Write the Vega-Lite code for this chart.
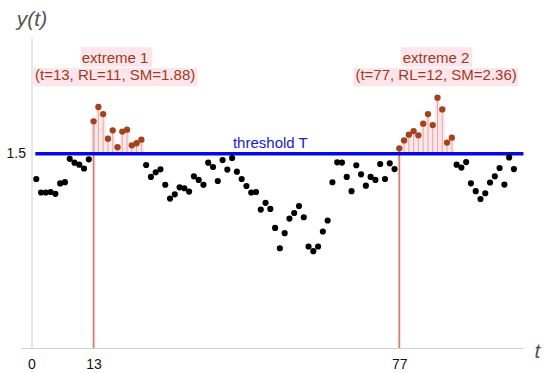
{
  "$schema": "https://vega.github.io/schema/vega-lite/v6.json",
  "width": 502,
  "height": 311,
  "autosize": "none",
  "padding": {"left": 21, "top": 37, "right": 27, "bottom": 25},
  "background": "white",
  "config": {"view": {"stroke": null}, "font": "Liberation Sans"},
  "datasets": {
    "series": [
      {"t":1,"y":1.304},{"t":2,"y":1.20},{"t":3,"y":1.20},{"t":4,"y":1.204},{"t":5,"y":1.19},
      {"t":6,"y":1.27},{"t":7,"y":1.28},{"t":8,"y":1.46},{"t":9,"y":1.43},{"t":10,"y":1.415},
      {"t":11,"y":1.385},{"t":12,"y":1.456},{"t":13,"y":1.749},{"t":14,"y":1.86},{"t":15,"y":1.805},
      {"t":16,"y":1.615},{"t":17,"y":1.68},{"t":18,"y":1.55},{"t":19,"y":1.67},{"t":20,"y":1.685},
      {"t":21,"y":1.564},{"t":22,"y":1.58},{"t":23,"y":1.608},{"t":24,"y":1.412},{"t":25,"y":1.32},
      {"t":26,"y":1.356},{"t":27,"y":1.379},{"t":28,"y":1.26},{"t":29,"y":1.153},{"t":30,"y":1.186},
      {"t":31,"y":1.24},{"t":32,"y":1.233},{"t":33,"y":1.207},{"t":34,"y":1.325},{"t":35,"y":1.297},
      {"t":36,"y":1.26},{"t":37,"y":1.43},{"t":38,"y":1.397},{"t":39,"y":1.289},{"t":40,"y":1.45},
      {"t":41,"y":1.377},{"t":42,"y":1.466},{"t":43,"y":1.361},{"t":44,"y":1.304},{"t":45,"y":1.25},
      {"t":46,"y":1.20},{"t":47,"y":1.204},{"t":48,"y":1.068},{"t":49,"y":1.12},{"t":50,"y":1.073},
      {"t":51,"y":0.927},{"t":52,"y":0.77},{"t":53,"y":0.886},{"t":54,"y":0.999},{"t":55,"y":1.042},
      {"t":56,"y":1.096},{"t":57,"y":1.009},{"t":58,"y":0.783},{"t":59,"y":0.747},{"t":60,"y":0.783},
      {"t":61,"y":0.899},{"t":62,"y":0.984},{"t":63,"y":1.279},{"t":64,"y":1.433},{"t":65,"y":1.431},
      {"t":66,"y":1.32},{"t":67,"y":1.21},{"t":68,"y":1.41},{"t":69,"y":1.34},{"t":70,"y":1.253},
      {"t":71,"y":1.32},{"t":72,"y":1.297},{"t":73,"y":1.42},{"t":74,"y":1.304},{"t":75,"y":1.425},
      {"t":76,"y":1.381},{"t":77,"y":1.541},{"t":78,"y":1.602},{"t":79,"y":1.646},{"t":80,"y":1.674},
      {"t":81,"y":1.641},{"t":82,"y":1.731},{"t":83,"y":1.805},{"t":84,"y":1.72},{"t":85,"y":1.931},
      {"t":86,"y":1.841},{"t":87,"y":1.585},{"t":88,"y":1.623},{"t":89,"y":1.415},{"t":90,"y":1.392},
      {"t":91,"y":1.435},{"t":92,"y":1.271},{"t":93,"y":1.21},{"t":94,"y":1.15},{"t":95,"y":1.194},
      {"t":96,"y":1.277},{"t":97,"y":1.325},{"t":98,"y":1.389},{"t":99,"y":1.261},{"t":100,"y":1.471},
      {"t":101,"y":1.381}
    ],
    "extremes": [
      {"t":13,"y":1.749},{"t":77,"y":1.541}
    ],
    "threshold": [{"t0":0.8,"t1":103,"T":1.5,"label":"threshold T","tl":50}],
    "labels": [
      {"t":17.5,"y":2.199,"text":"extreme 1"},
      {"t":17.5,"y":2.068,"text":"(t=13, RL=11, SM=1.88)"},
      {"t":84.7,"y":2.199,"text":"extreme 2"},
      {"t":84.7,"y":2.068,"text":"(t=77, RL=12, SM=2.36)"}
    ],
    "boxes": [
      {"t0":10.3,"t1":25.3,"y0":2.17,"y1":2.32},
      {"t0":0.4,"t1":34.8,"y0":2.02,"y1":2.16},
      {"t0":77.3,"t1":92.3,"y0":2.17,"y1":2.32},
      {"t0":67.4,"t1":101.9,"y0":2.02,"y1":2.16}
    ]
  },
  "layer": [
    {
      "data": {"name": "boxes"},
      "mark": {"type": "rect", "color": "#fde5ec"},
      "encoding": {
        "x": {"field": "t0", "type": "quantitative", "scale": {"domain": [-2.2, 102.9], "nice": false, "zero": false, "padding": 0},
          "axis": {"values": [0, 13, 77], "ticks": false, "grid": false, "domainColor": "#d0d0d0", "labelFontSize": 14, "labelColor": "#111", "labelPadding": 9, "labelFont": "Liberation Sans",
            "title": "t", "titleFontStyle": "italic", "titleFontWeight": "normal", "titleFontSize": 21, "titleColor": "#555", "titleFont": "Liberation Sans", "titleX": 516, "titleY": 9, "titleAlign": "center", "titleBaseline": "alphabetic"}},
        "x2": {"field": "t1"},
        "y": {"field": "y0", "type": "quantitative", "scale": {"domain": [0, 2.4], "nice": false, "padding": 0},
          "axis": {"values": [1.5], "offset": -10.5, "ticks": false, "grid": false, "domainColor": "#d0d0d0", "labelFontSize": 14, "labelColor": "#111", "labelPadding": 6, "labelFont": "Liberation Sans", "format": ".1f",
            "title": "y(t)", "titleAngle": 0, "titleFontStyle": "italic", "titleFontWeight": "normal", "titleFontSize": 21, "titleColor": "#555", "titleFont": "Liberation Sans", "titleX": 0, "titleY": -12, "titleAlign": "center", "titleBaseline": "alphabetic"}},
        "y2": {"field": "y1"}
      }
    },
    {
      "data": {"name": "series"},
      "transform": [{"filter": "datum.y > 1.5"}],
      "mark": {"type": "bar", "color": "#fde5ec", "size": 5},
      "encoding": {
        "x": {"field": "t", "type": "quantitative"},
        "y": {"field": "y", "type": "quantitative"},
        "y2": {"datum": 1.5}
      }
    },
    {
      "data": {"name": "extremes"},
      "mark": {"type": "rule", "color": "#fdeaf0", "strokeWidth": 4},
      "encoding": {
        "x": {"field": "t", "type": "quantitative"},
        "y": {"field": "y", "type": "quantitative"},
        "y2": {"datum": 0}
      }
    },
    {
      "data": {"name": "extremes"},
      "mark": {"type": "rule", "color": "#c48670", "strokeWidth": 1.6},
      "encoding": {
        "x": {"field": "t", "type": "quantitative"},
        "y": {"field": "y", "type": "quantitative"},
        "y2": {"datum": 0}
      }
    },
    {
      "data": {"name": "series"},
      "transform": [{"filter": "datum.y > 1.5"}],
      "mark": {"type": "rule", "color": "#e0ae9f", "strokeWidth": 1},
      "encoding": {
        "x": {"field": "t", "type": "quantitative"},
        "y": {"field": "y", "type": "quantitative"},
        "y2": {"datum": 1.5}
      }
    },
    {
      "data": {"name": "threshold"},
      "mark": {"type": "rule", "color": "#0808e0", "strokeWidth": 3.5},
      "encoding": {
        "x": {"field": "t0", "type": "quantitative"},
        "x2": {"field": "t1"},
        "y": {"field": "T", "type": "quantitative"}
      }
    },
    {
      "data": {"name": "threshold"},
      "mark": {"type": "text", "color": "#1a1ad0", "fontSize": 15, "font": "Liberation Sans", "baseline": "alphabetic", "dy": -6},
      "encoding": {
        "x": {"field": "tl", "type": "quantitative"},
        "y": {"field": "T", "type": "quantitative"},
        "text": {"field": "label"}
      }
    },
    {
      "data": {"name": "series"},
      "transform": [{"filter": "datum.y <= 1.5"}],
      "mark": {"type": "circle", "color": "#000", "size": 38, "opacity": 1},
      "encoding": {
        "x": {"field": "t", "type": "quantitative"},
        "y": {"field": "y", "type": "quantitative"}
      }
    },
    {
      "data": {"name": "series"},
      "transform": [{"filter": "datum.y > 1.5"}],
      "mark": {"type": "circle", "color": "#a4421c", "size": 40, "opacity": 1},
      "encoding": {
        "x": {"field": "t", "type": "quantitative"},
        "y": {"field": "y", "type": "quantitative"}
      }
    },
    {
      "data": {"name": "labels"},
      "mark": {"type": "text", "color": "#a03a20", "fontSize": 15, "font": "Liberation Sans", "baseline": "alphabetic", "align": "center"},
      "encoding": {
        "x": {"field": "t", "type": "quantitative"},
        "y": {"field": "y", "type": "quantitative"},
        "text": {"field": "text"}
      }
    }
  ]
}
